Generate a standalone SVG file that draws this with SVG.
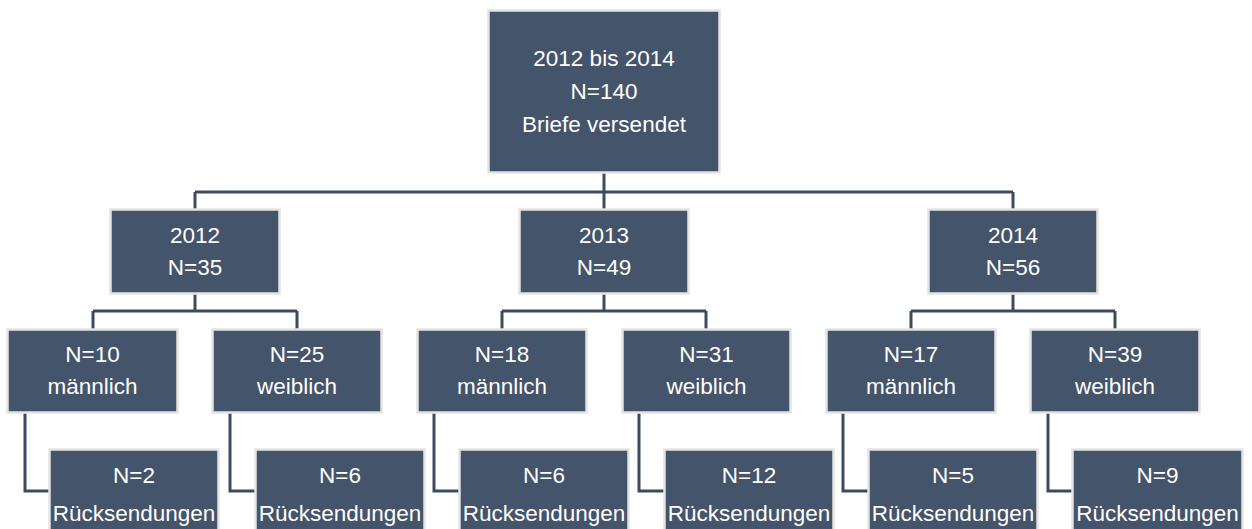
<svg xmlns="http://www.w3.org/2000/svg" width="1252" height="529" viewBox="0 0 1252 529">
  <style>
    .box { fill: #44546a; stroke: #e4e4e4; stroke-width: 2.5; }
    .lbl { fill: #ffffff; font-family: "Liberation Sans", Arial, sans-serif; font-size: 22.5px; text-anchor: middle; }
    .wire { fill: none; stroke: #3c4b60; stroke-width: 3; }
  </style>
  <rect width="1252" height="529" fill="#ffffff"/>

  <!-- connectors -->
  <g id="connectors">
    <path class="wire" d="M604 172 V210 M195 192 H1013 M195 192 V210 M1013 192 V210"/>
    <path class="wire" d="M195 293 V311 M93 311 H297 M93 311 V330 M297 311 V330"/>
    <path class="wire" d="M604 293 V311 M502 311 H706 M502 311 V330 M706 311 V330"/>
    <path class="wire" d="M1013 293 V311 M911 311 H1115 M911 311 V330 M1115 311 V330"/>
    <path class="wire" d="M25 412 V491 H50"/>
    <path class="wire" d="M230 412 V491 H256"/>
    <path class="wire" d="M434 412 V491 H460"/>
    <path class="wire" d="M639 412 V491 H665"/>
    <path class="wire" d="M843 412 V491 H869"/>
    <path class="wire" d="M1048 412 V491 H1073"/>
  </g>

  <!-- root -->
  <g id="n-total">
    <rect class="box" x="488.5" y="10.5" width="231" height="162"/>
    <text class="lbl" x="604" y="66">2012 bis 2014</text>
    <text class="lbl" x="604" y="99">N=140</text>
    <text class="lbl" x="604" y="132">Briefe versendet</text>
  </g>

  <!-- years -->
  <g id="n-2012">
    <rect class="box" x="110.5" y="209.5" width="169" height="84"/>
    <text class="lbl" x="195" y="243">2012</text>
    <text class="lbl" x="195" y="275">N=35</text>
  </g>
  <g id="n-2013">
    <rect class="box" x="519.5" y="209.5" width="169" height="84"/>
    <text class="lbl" x="604" y="243">2013</text>
    <text class="lbl" x="604" y="275">N=49</text>
  </g>
  <g id="n-2014">
    <rect class="box" x="928.5" y="209.5" width="169" height="84"/>
    <text class="lbl" x="1013" y="243">2014</text>
    <text class="lbl" x="1013" y="275">N=56</text>
  </g>

  <!-- gender split -->
  <g id="n-2012-m">
    <rect class="box" x="7.5" y="329.5" width="170" height="83"/>
    <text class="lbl" x="92.5" y="362">N=10</text>
    <text class="lbl" x="92.5" y="394">männlich</text>
  </g>
  <g id="n-2012-w">
    <rect class="box" x="212.5" y="329.5" width="169" height="83"/>
    <text class="lbl" x="297" y="362">N=25</text>
    <text class="lbl" x="297" y="394">weiblich</text>
  </g>
  <g id="n-2013-m">
    <rect class="box" x="417.5" y="329.5" width="169" height="83"/>
    <text class="lbl" x="502" y="362">N=18</text>
    <text class="lbl" x="502" y="394">männlich</text>
  </g>
  <g id="n-2013-w">
    <rect class="box" x="622.5" y="329.5" width="168" height="83"/>
    <text class="lbl" x="706.5" y="362">N=31</text>
    <text class="lbl" x="706.5" y="394">weiblich</text>
  </g>
  <g id="n-2014-m">
    <rect class="box" x="826.5" y="329.5" width="169" height="83"/>
    <text class="lbl" x="911" y="362">N=17</text>
    <text class="lbl" x="911" y="394">männlich</text>
  </g>
  <g id="n-2014-w">
    <rect class="box" x="1030.5" y="329.5" width="169" height="83"/>
    <text class="lbl" x="1115" y="362">N=39</text>
    <text class="lbl" x="1115" y="394">weiblich</text>
  </g>

  <!-- returns -->
  <g id="n-2012-m-r">
    <rect class="box" x="49.5" y="449.5" width="169" height="95"/>
    <text class="lbl" x="134" y="483">N=2</text>
    <text class="lbl" x="134" y="521">Rücksendungen</text>
  </g>
  <g id="n-2012-w-r">
    <rect class="box" x="255.5" y="449.5" width="169" height="95"/>
    <text class="lbl" x="340" y="483">N=6</text>
    <text class="lbl" x="340" y="521">Rücksendungen</text>
  </g>
  <g id="n-2013-m-r">
    <rect class="box" x="459.5" y="449.5" width="169" height="95"/>
    <text class="lbl" x="544" y="483">N=6</text>
    <text class="lbl" x="544" y="521">Rücksendungen</text>
  </g>
  <g id="n-2013-w-r">
    <rect class="box" x="664.5" y="449.5" width="169" height="95"/>
    <text class="lbl" x="749" y="483">N=12</text>
    <text class="lbl" x="749" y="521">Rücksendungen</text>
  </g>
  <g id="n-2014-m-r">
    <rect class="box" x="868.5" y="449.5" width="169" height="95"/>
    <text class="lbl" x="953" y="483">N=5</text>
    <text class="lbl" x="953" y="521">Rücksendungen</text>
  </g>
  <g id="n-2014-w-r">
    <rect class="box" x="1072.5" y="449.5" width="170" height="95"/>
    <text class="lbl" x="1157.5" y="483">N=9</text>
    <text class="lbl" x="1157.5" y="521">Rücksendungen</text>
  </g>
</svg>
